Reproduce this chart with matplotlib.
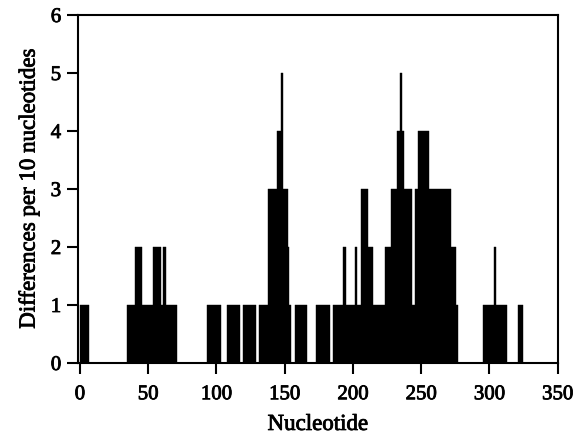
import matplotlib
matplotlib.use("Agg")
import matplotlib.pyplot as plt
import matplotlib.patheffects as pe

# Step segments: start nucleotide, end nucleotide, differences per 10 nucleotides
seg_start = [0, 34.5, 40, 45.2, 53.8, 59.3, 61, 62.8, 93.4, 107.5, 119.4,
             131.5, 138, 144.4, 147.2, 148.6, 152.2, 153.4, 157.3, 172.9,
             185.3, 193, 194.6, 201.3, 202.9, 206, 211.3, 215, 223.5, 227.8,
             232.2, 234.6, 236.1, 237.4, 243, 245.8, 248, 255.7, 271.9, 275.2,
             295.2, 303.3, 305, 320.8]
seg_end = [6.5, 40, 45.2, 53.8, 59.3, 61, 62.8, 70.8, 103, 117.2, 129,
           138, 144.4, 147.2, 148.6, 152.2, 153.4, 154.8, 166.5, 183,
           193, 194.6, 201.3, 202.9, 206, 211.3, 215, 223.5, 227.8, 232.2,
           234.6, 236.1, 237.4, 243, 245.8, 248, 255.7, 271.9, 275.2, 276.6,
           303.3, 305, 312.7, 324.8]
seg_height = [1, 1, 2, 1, 2, 1, 2, 1, 1, 1, 1,
              1, 3, 4, 5, 3, 2, 1, 1, 1,
              1, 2, 1, 2, 1, 3, 2, 1, 2, 3,
              4, 5, 4, 3, 1, 3, 4, 3, 2, 1,
              1, 2, 1, 1]

x_ticks = [0, 50, 100, 150, 200, 250, 300, 350]
y_ticks = [0, 1, 2, 3, 4, 5, 6]

plt.rcParams['font.family'] = ['Liberation Serif', 'DejaVu Serif']

fig = plt.figure(figsize=(5.81, 4.34), dpi=100)
ax = fig.add_axes([0.134, 0.1636, 0.826, 0.8018])

widths = [e - s for s, e in zip(seg_start, seg_end)]
ax.bar(seg_start, seg_height, width=widths, align='edge',
       color='black', edgecolor='black', linewidth=0.3)

ax.set_xlim(-1.5, 350)
ax.set_ylim(0, 6)
ax.set_xticks(x_ticks)
ax.set_yticks(y_ticks)
ax.tick_params(axis='both', direction='out', length=8, width=1.5,
               labelsize=15)
ax.tick_params(axis='x', pad=8)
ax.tick_params(axis='y', pad=4)
ax.tick_params(top=False, right=False)
for sp in ax.spines.values():
    sp.set_linewidth(1.5)

ax.set_xlabel('Nucleotide', fontsize=16.5, labelpad=7)
ax.set_ylabel('Differences per 10 nucleotides', fontsize=16.5, labelpad=8)

heavy = [pe.withStroke(linewidth=0.6, foreground='black')]
for t in ax.get_xticklabels() + ax.get_yticklabels() + [ax.xaxis.label, ax.yaxis.label]:
    t.set_path_effects(heavy)

fig.savefig('out.png', dpi=100)
